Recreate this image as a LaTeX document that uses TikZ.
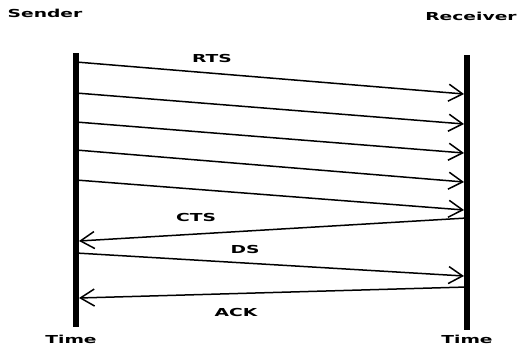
\documentclass[tikz,border=0pt]{standalone}
\usepackage{fontspec}
\usepackage{graphicx}
\setmainfont{DejaVu Sans}
\usetikzlibrary{arrows.meta}
\newcommand{\lbl}[1]{\scalebox{1.7}[1]{\bfseries #1}}
\begin{document}
\begin{tikzpicture}[x=1pt,y=-1pt,
  lifeline/.style={line width=6pt},
  msg/.style={line width=1.5pt,-{Straight Barb[length=14pt,width=17pt,line width=1.5pt]}},
  txt/.style={inner sep=0pt,font=\fontsize{11}{13}\selectfont}]
\useasboundingbox (0,0) rectangle (517,348);
% lifelines
\coordinate (s0) at (76,53);
\coordinate (s1) at (76,327);
\coordinate (r0) at (467,55);
\coordinate (r1) at (467,330);
\draw[lifeline] (s0) -- (s1);
\draw[lifeline] (r0) -- (r1);
% labels
\node[txt] (sender) at (45,13) {\lbl{Sender}};
\node[txt] (receiver) at (471,16) {\lbl{Receiver}};
\node[txt] (time1) at (71,339) {\lbl{Time}};
\node[txt] (time2) at (467,339) {\lbl{Time}};
\node[txt] (rts) at (212,58) {\lbl{RTS}};
\node[txt] (cts) at (196,217) {\lbl{CTS}};
\node[txt] (ds) at (245,249) {\lbl{DS}};
\node[txt] (ack) at (236,312) {\lbl{ACK}};
% message endpoints
\coordinate (a1) at (76,62);  \coordinate (b1) at (464,94);
\coordinate (a2) at (76,93);  \coordinate (b2) at (464,124);
\coordinate (a3) at (76,122); \coordinate (b3) at (464,153);
\coordinate (a4) at (76,150); \coordinate (b4) at (464,182);
\coordinate (a5) at (76,180); \coordinate (b5) at (464,210);
\coordinate (c1) at (467,218); \coordinate (c2) at (79,241);
\coordinate (d1) at (76,253); \coordinate (d2) at (464,276);
\coordinate (e1) at (467,287); \coordinate (e2) at (79,298);
\draw[msg] (a1) -- (b1);
\draw[msg] (a2) -- (b2);
\draw[msg] (a3) -- (b3);
\draw[msg] (a4) -- (b4);
\draw[msg] (a5) -- (b5);
\draw[msg] (c1) -- (c2);
\draw[msg] (d1) -- (d2);
\draw[msg] (e1) -- (e2);
\end{tikzpicture}
\end{document}
